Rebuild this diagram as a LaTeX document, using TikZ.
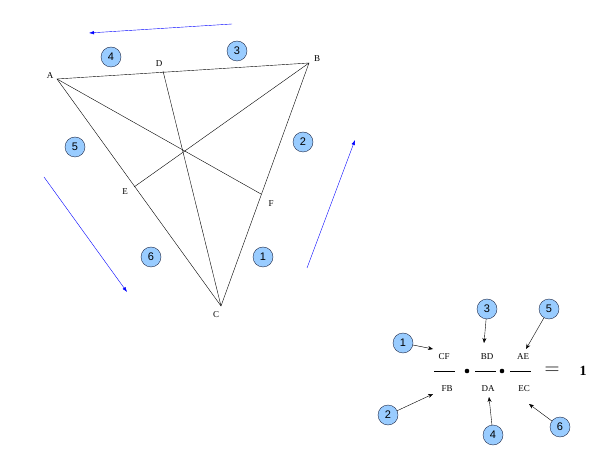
\documentclass[tikz,border=0pt]{standalone}
\usepackage{fontspec}
\setmainfont{Liberation Serif}
\setsansfont{Liberation Sans}
\usetikzlibrary{arrows.meta}
\definecolor{numfill}{RGB}{153,204,255}
\definecolor{numline}{RGB}{30,40,70}

\begin{document}
\begin{tikzpicture}[x=1pt, y=-1pt,
    lbl/.style={font=\fontsize{9}{10}\selectfont, inner sep=0pt},
    num/.style={circle, draw=numline, fill=numfill, minimum size=20pt, inner sep=0pt, font=\sffamily\fontsize{11}{12}\selectfont},
    pointer/.style={-{Stealth[length=5pt, width=4pt]}, thin},
    turn/.style={-{Latex[length=5pt, width=3.5pt]}, blue, thin}]
    \useasboundingbox (0,0) rectangle (605,454);

    % Triangle points
    \coordinate (A) at (57,79);
    \coordinate (B) at (309,63);
    \coordinate (C) at (221,306);
    \coordinate (D) at (163,71);
    \coordinate (E) at (134,187);
    \coordinate (F) at (261,194);

    % Sides and cevians
    \draw (A) -- (B) -- (C) -- cycle;
    \draw (A) -- (F);
    \draw (B) -- (E);
    \draw (C) -- (D);

    % Point labels
    \node[lbl] (lA) at (50,76) {A};
    \node[lbl] (lB) at (317,59) {B};
    \node[lbl] (lC) at (216,315) {C};
    \node[lbl] (lD) at (159,64) {D};
    \node[lbl] (lE) at (125,192) {E};
    \node[lbl] (lF) at (271,204) {F};

    % Numbered segments
    \node[num] (s1) at (263,257) {1};
    \node[num] (s2) at (303,142) {2};
    \node[num] (s3) at (237,51) {3};
    \node[num] (s4) at (111,57) {4};
    \node[num] (s5) at (75,147) {5};
    \node[num] (s6) at (151,257) {6};

    % Direction of travel
    \coordinate (r1) at (307,268);
    \coordinate (r2) at (355,140);
    \coordinate (t1) at (232,24);
    \coordinate (t2) at (89,33);
    \coordinate (l1) at (44,177);
    \coordinate (l2) at (127,292);
    \draw[turn] (r1) -- (r2);
    \draw[turn] (t1) -- (t2);
    \draw[turn] (l1) -- (l2);

    % Ratio product
    \node[lbl] (CF) at (444,357) {CF};
    \node[lbl] (FB) at (447,389) {FB};
    \node[lbl] (BD) at (487,357) {BD};
    \node[lbl] (DA) at (488,389) {DA};
    \node[lbl] (AE) at (523,357) {AE};
    \node[lbl] (EC) at (524,389) {EC};
    \draw (434,371) -- (455,371);
    \draw (475,371) -- (496,371);
    \draw (510,371) -- (531,371);
    \fill (467,371) circle (2.3pt);
    \fill (502,371) circle (2.3pt);
    \node[inner sep=0pt, font=\fontsize{22}{22}\selectfont] (eq) at (552,371) {$=$};
    \node[inner sep=0pt, font=\bfseries\fontsize{14}{14}\selectfont] (one) at (583,371) {1};

    \node[num] (f1) at (403,343) {1};
    \node[num] (f2) at (388,415) {2};
    \node[num] (f3) at (487,309) {3};
    \node[num] (f4) at (493,435) {4};
    \node[num] (f5) at (549,309) {5};
    \node[num] (f6) at (560,427) {6};
    \coordinate (p1) at (433,349);
    \coordinate (p2) at (433,394);
    \coordinate (p3) at (484,343);
    \coordinate (p4) at (489,397);
    \coordinate (p5) at (526,349);
    \coordinate (p6) at (529,404);
    \draw[pointer] (f1) -- (p1);
    \draw[pointer] (f2) -- (p2);
    \draw[pointer] (f3) -- (p3);
    \draw[pointer] (f4) -- (p4);
    \draw[pointer] (f5) -- (p5);
    \draw[pointer] (f6) -- (p6);
\end{tikzpicture}
\end{document}
